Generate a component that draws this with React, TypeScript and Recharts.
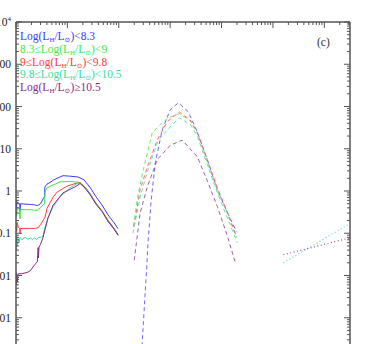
import { ComposedChart, Line, XAxis, YAxis } from 'recharts';

// wavelength (micron) vs. flux
const blueSolid = [
  [0.1, 0.58], [0.102, 0.36], [0.104, 0.56], [0.11, 0.52], [0.118, 0.5], [0.12, 0.34], [0.122, 0.5],
  [0.15, 0.49], [0.19, 0.48], [0.23, 0.47], [0.26, 0.45], [0.3, 0.5], [0.34, 0.66], [0.36, 0.75],
  [0.365, 1.25], [0.4, 1.45], [0.46, 1.6], [0.53, 1.8], [0.63, 2.0], [0.82, 2.3], [1.1, 2.25],
  [1.6, 2.15], [2.1, 1.84], [2.8, 1.19], [3.6, 0.73], [4.7, 0.47], [6.2, 0.27], [8.1, 0.177], [9.7, 0.128],
];
const greenSolid = [
  [0.1, 0.42], [0.103, 0.25], [0.106, 0.4], [0.115, 0.37], [0.12, 0.22], [0.122, 0.37], [0.15, 0.36],
  [0.19, 0.36], [0.23, 0.35], [0.26, 0.35], [0.3, 0.4], [0.336, 0.47], [0.36, 0.5], [0.368, 0.94],
  [0.4, 1.19], [0.5, 1.35], [0.575, 1.45], [0.72, 1.65], [1.1, 1.68], [1.6, 1.62], [1.77, 1.58],
  [2.1, 1.3], [2.4, 1.1], [2.8, 0.85], [3.6, 0.52], [4.7, 0.34], [6.2, 0.2], [8.1, 0.13], [9.7, 0.093],
];
const redSolid = [
  [0.1, 0.17], [0.103, 0.11], [0.106, 0.18], [0.11, 0.14], [0.118, 0.13], [0.12, 0.1], [0.122, 0.13],
  [0.15, 0.13], [0.19, 0.13], [0.23, 0.13], [0.27, 0.135], [0.3, 0.16], [0.336, 0.2], [0.368, 0.24],
  [0.4, 0.38], [0.46, 0.53], [0.53, 0.72], [0.63, 0.94], [0.98, 1.3], [1.55, 1.55], [1.77, 1.55],
  [2.1, 1.3], [2.4, 1.08], [2.8, 0.84], [3.6, 0.51], [4.7, 0.34], [6.2, 0.2], [8.1, 0.13], [9.7, 0.092],
];
const cyanSolid = [
  [0.1, 0.08], [0.101, 0.04], [0.103, 0.09], [0.106, 0.05], [0.11, 0.075], [0.115, 0.06], [0.12, 0.08],
  [0.13, 0.07], [0.15, 0.08], [0.17, 0.072], [0.19, 0.078], [0.21, 0.07], [0.23, 0.079], [0.25, 0.07],
  [0.27, 0.078], [0.3, 0.08], [0.336, 0.085], [0.36, 0.13], [0.42, 0.23], [0.526, 0.42], [0.72, 0.73],
  [1.13, 1.19], [1.62, 1.55], [1.77, 1.5], [2.1, 1.27], [2.4, 1.05], [2.8, 0.82], [3.6, 0.5],
  [4.7, 0.33], [6.2, 0.19], [8.1, 0.125], [9.7, 0.09],
];
const purpleSolid = [
  [0.1, 0.012], [0.101, 0.006], [0.103, 0.011], [0.106, 0.007], [0.11, 0.011], [0.13, 0.011],
  [0.15, 0.0115], [0.17, 0.012], [0.19, 0.013], [0.215, 0.016], [0.24, 0.019], [0.26, 0.021],
  [0.265, 0.03], [0.269, 0.046], [0.272, 0.026], [0.281, 0.047], [0.3, 0.055], [0.336, 0.08],
  [0.42, 0.23], [0.526, 0.46], [0.82, 0.9], [1.41, 1.25], [1.77, 1.5], [2.1, 1.25], [2.4, 1.02],
  [2.8, 0.8], [3.6, 0.49], [4.7, 0.33], [6.2, 0.19], [8.1, 0.125], [9.7, 0.09],
];

const blueDashed = [
  [26, 0.0001], [28.6, 0.00026], [35, 0.016], [37.4, 0.07], [42.8, 0.62], [51.3, 4.6], [70, 28],
  [100, 83], [144, 122], [225, 75], [337, 25], [529, 5.5], [828, 1.07], [1297, 0.31], [1950, 0.11],
];
const greenDashed = [
  [19.5, 0.15], [22.8, 0.62], [30, 3.2], [45, 24], [64, 37], [88, 52], [150, 68], [246, 46],
  [337, 23], [529, 4.8], [828, 1.05], [1297, 0.29], [1950, 0.08],
];
const redDashed = [
  [19.5, 0.14], [26, 1.07], [36, 3.7], [56, 16], [88, 44], [150, 74], [246, 48], [337, 25],
  [529, 5.5], [828, 1.2], [1297, 0.32], [1950, 0.085],
];
const cyanDashed = [
  [19, 0.1], [26, 0.72], [37, 3.2], [59, 16], [100, 33], [150, 54], [246, 38], [337, 20],
  [529, 4.2], [828, 0.92], [1297, 0.23], [2030, 0.06],
];
const purpleDashed = [
  [20, 0.023], [26, 0.3], [36, 1.26], [56, 5.5], [100, 12], [172, 16], [337, 6.5], [529, 1.74],
  [828, 0.43], [1297, 0.087], [1858, 0.02],
];

const cyanDotted = [[16000, 0.02], [316228, 0.17]];
const purpleDotted = [[16000, 0.031], [316228, 0.078]];

const xDecades = [0.1, 1, 10, 100, 1000, 10000, 100000];
const yDecades = [0.0001, 0.001, 0.01, 0.1, 1, 10, 100, 1000];
const yMajor = [0.0001, 0.001, 0.01, 0.1, 1, 10, 100, 1000, 10000];
const yTickLabels = [['10', '-4'], ['0.001', ''], ['0.01', ''], ['0.1', ''], ['1', ''], ['10', ''], ['100', ''], ['1000', ''], ['10', '4']];

const legendLabels = [
  { pre: 'Log(L', post: ')<8.3', color: '#3b3bff' },
  { pre: '8.3≤Log(L', post: ')<9', color: '#3ee83e' },
  { pre: '9≤Log(L', post: ')<9.8', color: '#ff3b3b' },
  { pre: '9.8≤Log(L', post: ')<10.5', color: '#3ddba0' },
  { pre: 'Log(L', post: ')≥10.5', color: '#8a2a8a' },
];

const X_MAX = 316228;
const xTicks = xDecades.flatMap(d => [1, 2, 3, 4, 5, 6, 7, 8, 9].map(k => k * d)).filter(v => v <= X_MAX);
const yTicks = [...yDecades.flatMap(d => [1, 2, 3, 4, 5, 6, 7, 8, 9].map(k => k * d)), 10000];

const toPts = (arr: number[][]) => arr.map(([x, y]) => ({ x, y }));
const isMajor = (v: number) => Math.abs(Math.log10(v) - Math.round(Math.log10(v))) < 1e-6;

const AXIS = '#555';
const FONT = '"Liberation Serif", "DejaVu Serif", serif';

const TopTick = (props: any) => {
  const { x, y, payload } = props;
  const len = isMajor(payload.value) ? 6 : 3;
  return <line x1={x} y1={y} x2={x} y2={y + len} stroke={AXIS} strokeWidth={1} />;
};

const LeftTick = (props: any) => {
  const { x, y, payload } = props;
  const major = isMajor(payload.value);
  const idx = yMajor.findIndex(v => Math.abs(Math.log10(v) - Math.log10(payload.value)) < 1e-6);
  const lab = idx >= 0 ? yTickLabels[idx] : null;
  return (
    <g>
      <line x1={x} y1={y} x2={x + (major ? 6 : 3)} y2={y} stroke={AXIS} strokeWidth={1} />
      {major && lab && (
        <text x={x - 5} y={y} dy="0.35em" textAnchor="end" fontFamily={FONT} fontSize={11.5} fill="#222">
          <tspan>{lab[0]}</tspan>
          {lab[1] && <tspan dy={-5} fontSize={7}>{lab[1]}</tspan>}
        </text>
      )}
    </g>
  );
};

const RightTick = (props: any) => {
  const { x, y, payload } = props;
  const len = isMajor(payload.value) ? 6 : 3;
  return <line x1={x} y1={y} x2={x - len} y2={y} stroke={AXIS} strokeWidth={1} />;
};

const series = [
  { data: blueSolid, color: '#3b3bff', dash: undefined, w: 1 },
  { data: greenSolid, color: '#3ee83e', dash: undefined, w: 1 },
  { data: redSolid, color: '#ff3b3b', dash: undefined, w: 1 },
  { data: cyanSolid, color: '#3ddba0', dash: undefined, w: 1 },
  { data: purpleSolid, color: '#8a2a8a', dash: undefined, w: 1 },
  { data: blueDashed, color: '#5a5aff', dash: '4 3', w: 0.9 },
  { data: greenDashed, color: '#5ae85a', dash: '4 3', w: 0.9 },
  { data: redDashed, color: '#ff5a5a', dash: '4 3', w: 0.9 },
  { data: cyanDashed, color: '#5ddbb0', dash: '4 3', w: 0.9 },
  { data: purpleDashed, color: '#9a4a9a', dash: '4 3', w: 0.9 },
  { data: cyanDotted, color: '#5ddbb0', dash: '1 2.5', w: 1.2 },
  { data: purpleDotted, color: '#9a4a9a', dash: '1 2.5', w: 1.2 },
];

export default function App() {
  return (
    <div style={{ position: 'absolute', left: 0, top: 0, width: 371, height: 344, overflow: 'hidden', background: '#fff' }}>
      <ComposedChart width={371} height={370} margin={{ top: 0, right: 0, bottom: 10, left: 0 }}>
        <XAxis
          xAxisId="t"
          orientation="top"
          type="number"
          dataKey="x"
          scale="log"
          domain={[0.1, X_MAX]}
          allowDataOverflow
          ticks={xTicks}
          interval={0}
          height={22}
          tickSize={0}
          tickMargin={0}
          tickLine={false}
          tick={<TopTick />}
          axisLine={{ stroke: AXIS, strokeWidth: 1.5 }}
        />
        <YAxis
          yAxisId="l"
          orientation="left"
          type="number"
          scale="log"
          domain={[0.0001, 10000]}
          allowDataOverflow
          ticks={yTicks}
          interval={0}
          width={16}
          tickSize={0}
          tickMargin={0}
          tickLine={false}
          tick={<LeftTick />}
          axisLine={{ stroke: AXIS, strokeWidth: 1.5 }}
        />
        <YAxis
          yAxisId="r"
          orientation="right"
          type="number"
          scale="log"
          domain={[0.0001, 10000]}
          allowDataOverflow
          ticks={yTicks}
          interval={0}
          width={21}
          tickSize={0}
          tickMargin={0}
          tickLine={false}
          tick={<RightTick />}
          axisLine={{ stroke: AXIS, strokeWidth: 1.5 }}
        />
        {series.map((s, i) => (
          <Line
            key={i}
            xAxisId="t"
            yAxisId="l"
            data={toPts(s.data)}
            dataKey="y"
            type="linear"
            stroke={s.color}
            strokeWidth={s.w}
            strokeDasharray={s.dash}
            dot={false}
            activeDot={false}
            isAnimationActive={false}
          />
        ))}
      </ComposedChart>
      {legendLabels.map((l, i) => (
        <div
          key={i}
          style={{
            position: 'absolute', left: 20, top: 30 + i * 12.8, color: l.color, fontFamily: FONT,
            fontSize: 11.5, lineHeight: '13px', whiteSpace: 'nowrap',
          }}
        >
          {l.pre}
          <sub style={{ fontSize: '0.6em', verticalAlign: '-0.3em', lineHeight: 0 }}>H</sub>
          /L
          <sub style={{ fontSize: '0.6em', verticalAlign: '-0.3em', lineHeight: 0 }}>⊙</sub>
          {l.post}
        </div>
      ))}
      <div style={{ position: 'absolute', left: 317, top: 36, fontFamily: FONT, fontSize: 11.5, lineHeight: '13px', color: '#333' }}>
        (c)
      </div>
    </div>
  );
}
